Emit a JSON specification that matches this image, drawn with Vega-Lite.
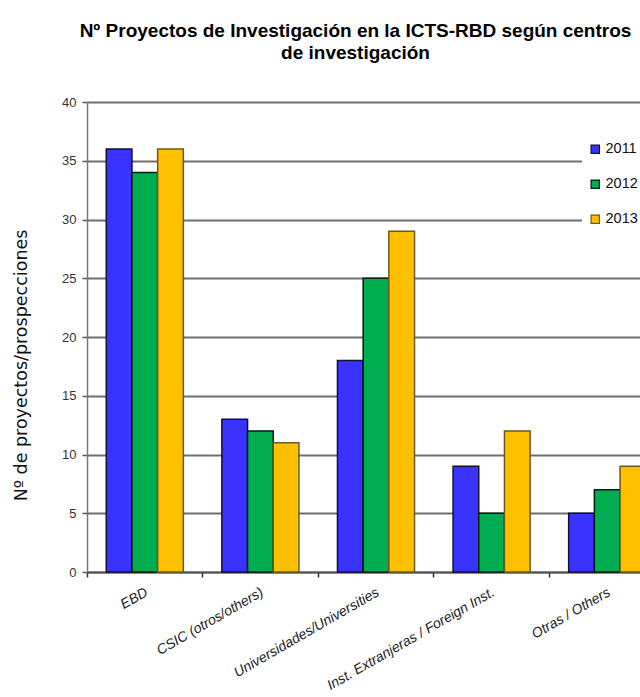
{
  "$schema": "https://vega.github.io/schema/vega-lite/v6.json",
  "autosize": {"type": "none"},
  "padding": {"left": 87, "top": 102, "right": 0, "bottom": 125},
  "width": 553,
  "height": 470,
  "background": "white",
  "title": {
    "text": ["Nº Proyectos de Investigación en la ICTS-RBD según centros", "de investigación"],
    "font": "Liberation Sans",
    "fontSize": 19,
    "fontWeight": "bold",
    "color": "#000000",
    "anchor": "middle",
    "dx": -8,
    "offset": 33,
    "lineHeight": 22
  },
  "data": {
    "values": [
      {"centro": "EBD", "year": "2011", "n": 36},
      {"centro": "EBD", "year": "2012", "n": 34},
      {"centro": "EBD", "year": "2013", "n": 36},
      {"centro": "CSIC (otros/others)", "year": "2011", "n": 13},
      {"centro": "CSIC (otros/others)", "year": "2012", "n": 12},
      {"centro": "CSIC (otros/others)", "year": "2013", "n": 11},
      {"centro": "Universidades/Universities", "year": "2011", "n": 18},
      {"centro": "Universidades/Universities", "year": "2012", "n": 25},
      {"centro": "Universidades/Universities", "year": "2013", "n": 29},
      {"centro": "Inst. Extranjeras / Foreign Inst.", "year": "2011", "n": 9},
      {"centro": "Inst. Extranjeras / Foreign Inst.", "year": "2012", "n": 5},
      {"centro": "Inst. Extranjeras / Foreign Inst.", "year": "2013", "n": 12},
      {"centro": "Otras / Others", "year": "2011", "n": 5},
      {"centro": "Otras / Others", "year": "2012", "n": 7},
      {"centro": "Otras / Others", "year": "2013", "n": 9}
    ]
  },
  "mark": {"type": "bar", "strokeWidth": 1.5},
  "encoding": {
    "x": {
      "field": "centro",
      "type": "nominal",
      "sort": null,
      "scale": {"range": [0, 578], "paddingInner": 0, "paddingOuter": 0},
      "axis": {
        "title": null,
        "bandPosition": 0,
        "grid": false,
        "domainColor": "#555555",
        "domainWidth": 2,
        "tickColor": "#333333",
        "tickWidth": 1.5,
        "tickSize": 5,
        "labelAngle": -30,
        "labelAlign": "right",
        "labelBaseline": "middle",
        "labelPadding": 14,
        "labelFont": "Liberation Sans",
        "labelFontSize": 14,
        "labelFontStyle": "italic",
        "labelColor": "#222222",
        "labelOffset": 2,
        "labelLimit": 300
      }
    },
    "xOffset": {
      "field": "year",
      "type": "nominal",
      "scale": {"paddingInner": 0, "paddingOuter": 0.75}
    },
    "y": {
      "field": "n",
      "type": "quantitative",
      "scale": {"domain": [0, 40], "nice": false},
      "axis": {
        "title": "Nº de proyectos/prospecciones",
        "titleFont": "DejaVu Sans",
        "titleFontSize": 17.5,
        "titleFontWeight": "normal",
        "titleColor": "#111111",
        "titleX": -57,
        "titleY": 263,
        "titleAngle": -90,
        "titleAlign": "center",
        "titleBaseline": "bottom",
        "values": [0, 5, 10, 15, 20, 25, 30, 35, 40],
        "grid": true,
        "gridColor": "#6e6e6e",
        "gridWidth": 2,
        "domainColor": "#777777",
        "domainWidth": 1.5,
        "tickColor": "#555555",
        "tickSize": 5,
        "tickWidth": 1.5,
        "labelFont": "Liberation Sans",
        "labelFontSize": 13,
        "labelColor": "#333333",
        "labelPadding": 6
      }
    },
    "color": {
      "field": "year",
      "type": "nominal",
      "scale": {"domain": ["2011", "2012", "2013"], "range": ["#3a33ff", "#00ad50", "#ffc000"]},
      "legend": {
        "title": null,
        "orient": "none",
        "legendX": 495,
        "legendY": 34,
        "fillColor": "white",
        "padding": 6,
        "symbolType": "square",
        "symbolSize": 70,
        "symbolStrokeWidth": 1.2,
        "symbolStrokeColor": "#000000",
        "labelFont": "Liberation Sans",
        "labelFontSize": 14.5,
        "labelColor": "#111111",
        "labelOffset": 3,
        "rowPadding": 20
      }
    },
    "stroke": {
      "field": "year",
      "type": "nominal",
      "scale": {"domain": ["2011", "2012", "2013"], "range": ["#111133", "#0d1a12", "#6b5a20"]},
      "legend": null
    }
  },
  "config": {
    "view": {"stroke": null},
    "axis": {"labelFont": "Liberation Sans"}
  }
}
